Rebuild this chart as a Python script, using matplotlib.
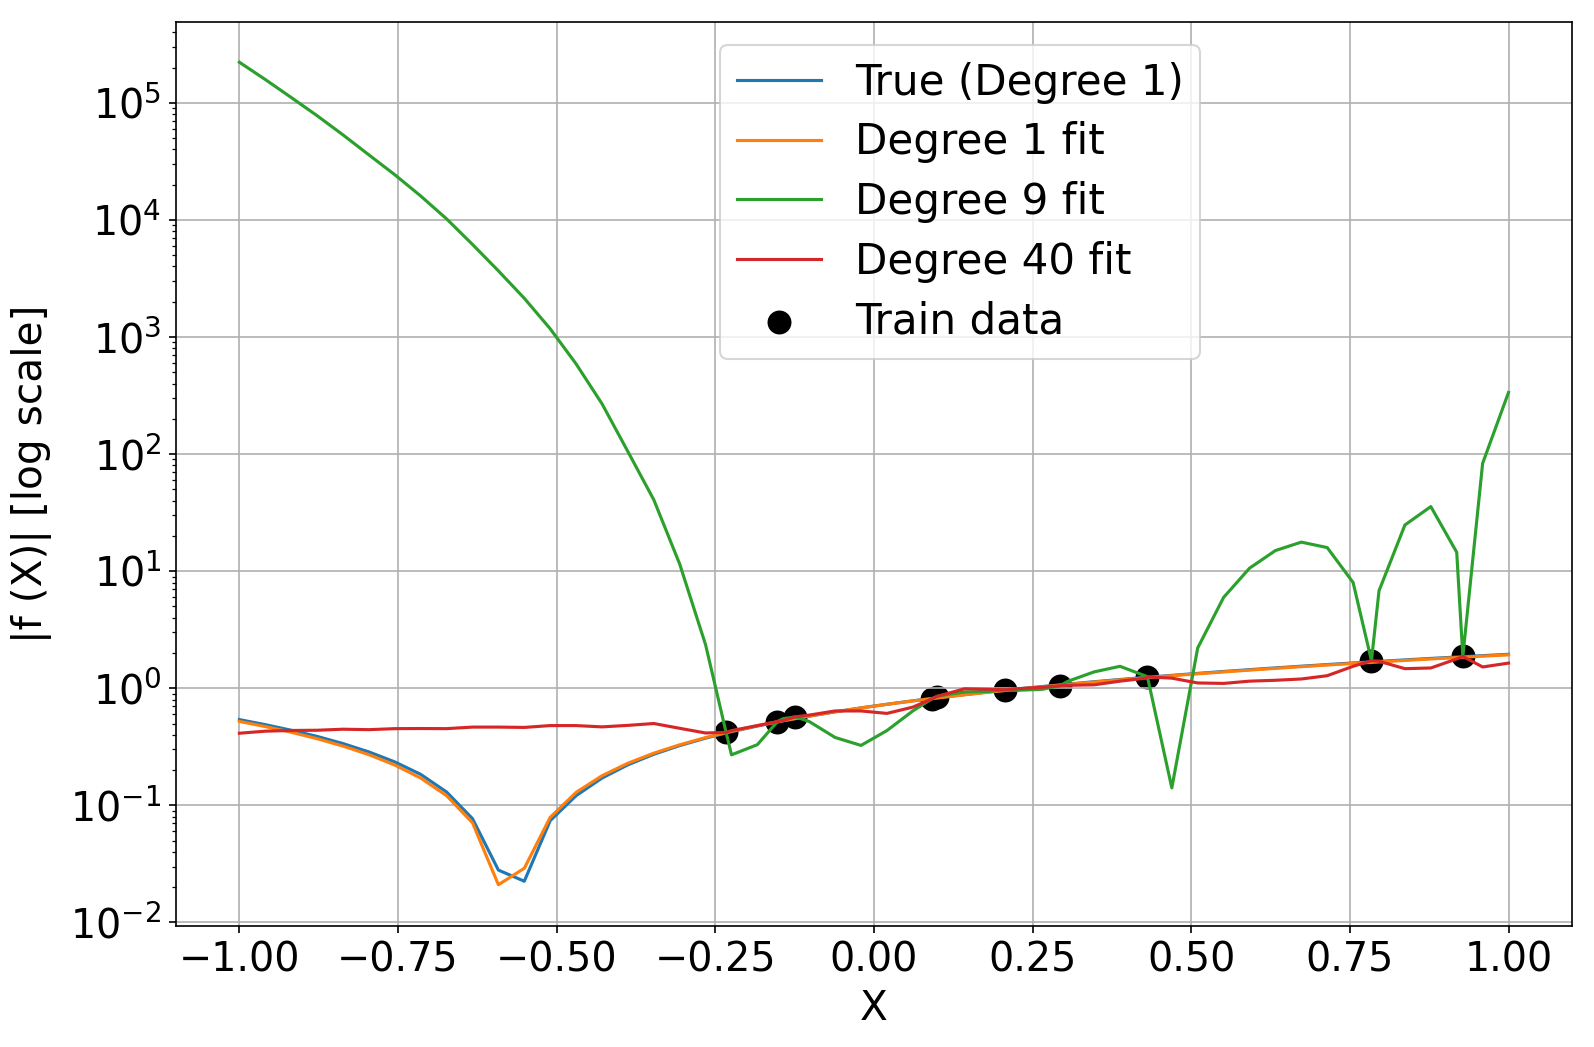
import numpy as np
import matplotlib
matplotlib.use("Agg")
import matplotlib.pyplot as plt

# Test grid and training points
x_grid = np.linspace(-1, 1, 50)
train_x = [-0.233, -0.152, -0.124, 0.091, 0.099, 0.206, 0.293, 0.431, 0.784, 0.928]
train_y = [0.42, 0.52, 0.57, 0.81, 0.85, 0.97, 1.05, 1.25, 1.72, 1.87]

# Fitted curves are evaluated on the grid plus the training points
x_fit = np.sort(np.concatenate([x_grid, train_x]))

true_y = [0.540, 0.489, 0.438, 0.388, 0.337, 0.286, 0.235, 0.184, 0.130, 0.077,
          0.028, 0.0225, 0.074, 0.121, 0.171, 0.222, 0.273, 0.324, 0.375, 0.426,
          0.476, 0.527, 0.578, 0.629, 0.680, 0.730, 0.781, 0.832, 0.883, 0.934,
          0.984, 1.035, 1.086, 1.137, 1.188, 1.239, 1.289, 1.340, 1.391, 1.442,
          1.493, 1.543, 1.594, 1.645, 1.696, 1.747, 1.798, 1.848, 1.899, 1.950]

deg1_y = [0.521, 0.471, 0.421, 0.371, 0.321, 0.271, 0.221, 0.171, 0.121, 0.071,
          0.021, 0.029, 0.079, 0.129, 0.179, 0.229, 0.279, 0.329, 0.379, 0.429,
          0.479, 0.529, 0.579, 0.629, 0.679, 0.729, 0.779, 0.829, 0.879, 0.929,
          0.979, 1.029, 1.079, 1.129, 1.179, 1.229, 1.279, 1.329, 1.379, 1.429,
          1.479, 1.529, 1.579, 1.629, 1.679, 1.729, 1.779, 1.829, 1.879, 1.929]

deg9_y = [222000, 158000, 111000, 77600, 53200, 35900, 24300, 16000, 10200, 6170,
          3670, 2140, 1175, 589, 269, 105, 40.7, 11.5, 2.35, 0.42,
          0.27, 0.33, 0.52, 0.55, 0.57, 0.52, 0.38, 0.325, 0.435, 0.64,
          0.81, 0.85, 0.86, 0.93, 0.94, 0.97, 0.96, 0.98, 1.05, 1.15,
          1.38, 1.54, 1.27, 1.25, 0.141, 2.21, 5.97, 10.6, 15.0, 17.7,
          15.9, 8.0, 1.72, 6.8, 24.8, 35.6, 14.5, 1.87, 83.3, 336]

deg40_y = [0.413, 0.43, 0.436, 0.438, 0.447, 0.443, 0.452, 0.453, 0.452, 0.466,
           0.466, 0.463, 0.48, 0.48, 0.468, 0.482, 0.50, 0.455, 0.415, 0.42,
           0.435, 0.48, 0.52, 0.53, 0.57, 0.59, 0.64, 0.64, 0.61, 0.69,
           0.81, 0.85, 0.86, 0.99, 0.98, 0.97, 0.99, 1.02, 1.05, 1.06,
           1.07, 1.15, 1.22, 1.25, 1.22, 1.11, 1.10, 1.15, 1.17, 1.20,
           1.28, 1.54, 1.72, 1.70, 1.47, 1.49, 1.78, 1.87, 1.52, 1.64]

plt.rcParams['font.size'] = 19

fig = plt.figure(figsize=(10.633, 6.98), dpi=150)
ax = fig.add_axes([0.1103, 0.1156, 0.8753, 0.8634])

ax.plot(x_grid, true_y, label="True (Degree 1)")
ax.plot(x_grid, deg1_y, label="Degree 1 fit")
ax.plot(x_fit, deg9_y, label="Degree 9 fit")
ax.plot(x_fit, deg40_y, label="Degree 40 fit")
ax.scatter(train_x, train_y, s=110, color="black", label="Train data")

ax.set_yscale("log")
ax.set_xlim(-1.1, 1.1)
ax.set_ylim(10 ** -2.03, 10 ** 5.69)
ax.set_xlabel("X", fontsize=19.5)
ax.set_ylabel("|f (X)| [log scale]", fontsize=19.5, labelpad=9)
ax.grid(True)

ax.legend(loc="upper left", bbox_to_anchor=(0.3897, 0.9746), borderaxespad=0,
          fontsize=20.2, labelspacing=0.42)

fig.savefig("out.png", dpi=150)
